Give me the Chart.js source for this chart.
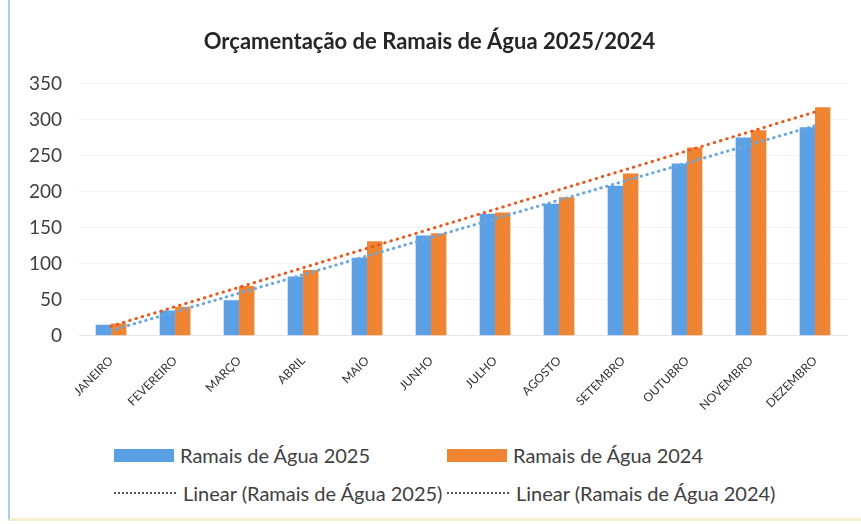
<!DOCTYPE html>
<html lang="pt">
<head>
<meta charset="utf-8">
<title>Orçamentação de Ramais de Água 2025/2024</title>
<script src="https://cdn.jsdelivr.net/npm/chart.js@4.4.1/dist/chart.umd.min.js"></script>
<style>
    html, body { margin: 0; padding: 0; background: #fff; }
    #wrap { position: relative; width: 861px; height: 524px; overflow: hidden; font-family: Lato, "Open Sans", sans-serif; }
    #frame { position: absolute; left: 8px; top: 0; width: 853px; height: 521px; border-left: 2px solid #a9cbec; border-bottom: 3px solid #f7f0cf; box-sizing: border-box; pointer-events: none; }
    #myChart { position: absolute; left: 0; top: 0; }
    #legend { position: absolute; left: 114px; top: 443px; display: grid; grid-template-columns: 333px 340px; row-gap: 14px; color: #404040; font-size: 20px; }
    #legend .item { display: flex; align-items: center; height: 24px; white-space: nowrap; }
    #legend .swatch { width: 60px; height: 13px; margin-right: 6px; }
    #legend .dots { width: 62px; height: 0; border-top: 2px dotted #555; margin-right: 7px; }
</style>
</head>
<body>
<div id="wrap">
    <canvas id="myChart" width="861" height="430"></canvas>
    <div id="legend"></div>
    <div id="frame"></div>
</div>
<script>
const months = ['JANEIRO', 'FEVEREIRO', 'MARÇO', 'ABRIL', 'MAIO', 'JUNHO', 'JULHO', 'AGOSTO', 'SETEMBRO', 'OUTUBRO', 'NOVEMBRO', 'DEZEMBRO'];
const ramais2025 = [15, 35, 49, 82, 108, 139, 169, 183, 208, 239, 275, 289];
const ramais2024 = [17, 40, 69, 91, 131, 142, 171, 192, 225, 261, 285, 317];
const yTicks = [0, 50, 100, 150, 200, 250, 300, 350];

const blue = '#5b9fe4';
const orange = '#ef8433';

// least squares line over the months, like the excel trendline
function linearTrend(values) {
    const n = values.length;
    let sx = 0, sy = 0, sxy = 0, sxx = 0;
    values.forEach((v, i) => {
        const x = i + 1;
        sx += x; sy += v; sxy += x * v; sxx += x * x;
    });
    const slope = (n * sxy - sx * sy) / (n * sxx - sx * sx);
    const intercept = (sy - slope * sx) / n;
    return values.map((v, i) => intercept + slope * (i + 1));
}

const htmlLegend = {
    id: 'htmlLegend',
    afterUpdate(chart) {
        const box = document.getElementById('legend');
        box.innerHTML = '';
        chart.data.datasets.forEach((ds) => {
            const item = document.createElement('div');
            item.className = 'item';
            const mark = document.createElement('span');
            if (ds.type === 'line') {
                mark.className = 'dots';
            } else {
                mark.className = 'swatch';
                mark.style.background = ds.backgroundColor;
            }
            const text = document.createElement('span');
            text.textContent = ds.label;
            item.appendChild(mark);
            item.appendChild(text);
            box.appendChild(item);
        });
    }
};

const ctx = document.getElementById('myChart').getContext('2d');

const datasets = [
    {
        type: 'bar',
        label: 'Ramais de Água 2025',
        data: ramais2025,
        backgroundColor: blue,
        order: 2,
        categoryPercentage: 0.48,
        barPercentage: 1.0
    },
    {
        type: 'bar',
        label: 'Ramais de Água 2024',
        data: ramais2024,
        backgroundColor: orange,
        order: 2,
        categoryPercentage: 0.48,
        barPercentage: 1.0
    },
    {
        type: 'line',
        label: 'Linear (Ramais de Água 2025)',
        data: linearTrend(ramais2025),
        borderColor: '#6aa8e0',
        borderWidth: 3,
        borderDash: [0.5, 5.5],
        borderCapStyle: 'round',
        pointRadius: 0,
        fill: false,
        order: 1
    },
    {
        type: 'line',
        label: 'Linear (Ramais de Água 2024)',
        data: linearTrend(ramais2024),
        borderColor: '#e8571e',
        borderWidth: 3,
        borderDash: [0.5, 6],
        borderCapStyle: 'round',
        pointRadius: 0,
        fill: false,
        order: 0
    }
];

const config = {
    type: 'bar',
    data: {
        labels: months,
        datasets: datasets
    },
    options: {
        responsive: false,
        animation: false,
        layout: {
            padding: { left: 12, right: 14, top: 0, bottom: 7 }
        },
        plugins: {
            legend: {
                display: false
            },
            tooltip: {
                enabled: false
            },
            title: {
                display: true,
                text: 'Orçamentação de Ramais de Água 2025/2024',
                color: '#262626',
                font: { family: 'Lato', size: 22, weight: 'bold' },
                padding: { top: 29, bottom: 28 }
            }
        },
        scales: {
            x: {
                grid: {
                    display: false
                },
                border: {
                    display: true,
                    color: '#e6e6e6'
                },
                ticks: {
                    color: '#333333',
                    font: { family: 'Lato', size: 12 },
                    autoSkip: false,
                    minRotation: 45,
                    maxRotation: 45,
                    padding: 10
                }
            },
            y: {
                min: yTicks[0],
                max: yTicks[yTicks.length - 1],
                afterBuildTicks(scale) {
                    scale.ticks = yTicks.map((v) => ({ value: v }));
                },
                grid: {
                    color: '#f4f4f4',
                    drawTicks: false
                },
                border: {
                    display: false
                },
                ticks: {
                    color: '#404040',
                    font: { family: 'Lato', size: 19 },
                    padding: 17
                }
            }
        }
    },
    plugins: [htmlLegend]
};

const myChart = new Chart(ctx, config);
</script>
</body>
</html>
